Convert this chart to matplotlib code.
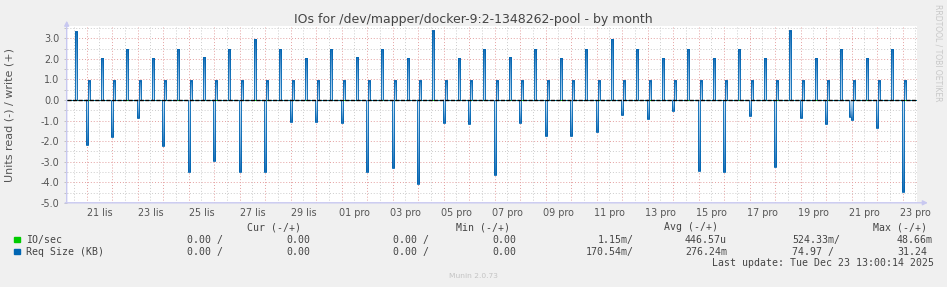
import numpy as np
import matplotlib
matplotlib.use("Agg")
import matplotlib.pyplot as plt
from matplotlib.colors import LinearSegmentedColormap
from matplotlib.patches import Rectangle

# time axis in days, 0 = 21 Nov 00:00; data are 2-hour RRD bins starting at odd hours
# read (drawn negative), bin 23:00-01:00 around each midnight, days 0..32
read_kb = [2.19, 1.78, 0.89, 2.22, 3.49, 2.97, 3.49, 3.49, 1.09, 1.05,
           1.10, 3.49, 3.29, 4.10, 1.14, 1.15, 3.63, 1.10, 1.74, 1.74, 1.54, 0.73,
           0.94, 0.54, 3.44, 3.49, 0.76, 3.24, 0.89, 1.15, 0.97, 1.35, 4.46]
# extra read bin 21:00-23:00 (only visible once)
read_kb_early = [0, 0, 0, 0, 0, 0, 0, 0, 0, 0,
                 0, 0, 0, 0, 0, 0, 0, 0, 0, 0, 0, 0,
                 0, 0, 0, 0, 0, 0, 0, 0, 0.81, 0, 0]
# write, bin 01:00-03:00, days 0..32
write_night_kb = [0.93, 0.93, 0.93, 0.93, 0.93, 0.93, 0.93, 0.93, 0.93, 0.93,
                  0.93, 0.93, 0.93, 0.93, 0.93, 0.93, 0.93, 0.93, 0.93, 0.93, 0.93, 0.93,
                  0.93, 0.93, 0.93, 0.93, 0.93, 0.93, 0.93, 0.93, 0.93, 0.93, 0.93]
# write, bin 13:00-15:00, days -1..31
write_day_kb = [3.31, 2.03, 2.47, 2.03, 2.47, 2.08, 2.47, 2.95, 2.47, 2.03,
                2.47, 2.08, 2.47, 2.03, 3.36, 2.03, 2.47, 2.08, 2.47, 2.03, 2.47, 2.95,
                2.47, 2.03, 2.47, 2.03, 2.47, 2.03, 3.36, 2.03, 2.47, 2.03, 2.47]
# IO/sec read, same bins as read_kb
io_read = [0, 0, 0, 0, 0, 0, 0, 0, 0, 0,
           0, 0, 0, 0, 0.05, 0.05, 0, 0, 0, 0, 0, 0,
           0, 0, 0, 0, 0.05, 0, 0.05, 0.04, 0.05, 0, 0]

day_labels = ["21 lis", "23 lis", "25 lis", "27 lis", "29 lis", "01 pro", "03 pro",
              "05 pro", "07 pro", "09 pro", "11 pro", "13 pro", "15 pro", "17 pro",
              "19 pro", "21 pro", "23 pro"]
label_days = list(range(0, 33, 2))

legend_names = ["IO/sec", "Req Size (KB)"]
legend_colors = ["#00cc00", "#0066b3"]
cur_vals = [["0.00 /", "0.00"], ["0.00 /", "0.00"]]
min_vals = [["0.00 /", "0.00"], ["0.00 /", "0.00"]]
avg_vals = [["1.15m/", "446.57u"], ["170.54m/", "276.24m"]]
max_vals = [["524.33m/", "48.66m"], ["74.97 /", "31.24"]]

W, H = 947, 287
BLUE = "#0066b3"


def px(x, y):
    return x / W, 1 - y / H


# bins
start0 = -1 + 5 / 24
nbins = 400
edges = start0 + np.arange(nbins + 1) / 12


def idx(t):
    return int(round((t - start0) * 12))


req = np.zeros(nbins)
io = np.zeros(nbins)
for d in range(33):
    req[idx(d - 1 / 24)] -= read_kb[d]
    req[idx(d - 3 / 24)] -= read_kb_early[d]
    req[idx(d + 1 / 24)] += write_night_kb[d]
    req[idx(d - 1 + 13 / 24)] += write_day_kb[d]
    io[idx(d - 1 / 24)] -= io_read[d]

fig = plt.figure(figsize=(W / 100, H / 100), dpi=100, facecolor="#f0f0f0")
ax = fig.add_axes([66.7 / W, 1 - 202.8 / H, (917 - 66.7) / W, 176.9 / H])
ax.set_facecolor("white")

# grid
for d in range(-1, 34):
    ax.axvline(d, color="#e4a0a0", lw=0.7, ls=(0, (1, 2)), zorder=1)
    ax.axvline(d + 0.5, color="#cccccc", lw=0.7, ls=(0, (1, 2)), zorder=1)
for v in np.arange(-5, 4, 1.0):
    ax.axhline(v, color="#e4a0a0", lw=0.7, ls=(0, (1, 2)), zorder=1)
    ax.axhline(v + 0.5, color="#cccccc", lw=0.7, ls=(0, (1, 2)), zorder=1)

# series
ax.stairs(io, edges, color="#00cc00", lw=0.7, baseline=None, zorder=2)
cmap = LinearSegmentedColormap.from_list("munin", ["#cfe3f3", "#7fb2dd", "#1a6db4"])
grad = np.linspace(0, 1, 64).reshape(-1, 1)
for k in np.nonzero(req)[0]:
    ax.imshow(grad, extent=[edges[k], edges[k + 1], 0, req[k]], cmap=cmap,
              aspect="auto", origin="lower", interpolation="bilinear", zorder=3)
ax.stairs(req, edges, color=BLUE, lw=0.6, baseline=None, zorder=4)
ax.axhline(0, color="black", lw=1.0, ls=(0, (3, 1)), zorder=5)

ax.set_xlim(-0.784, 32.56)
ax.set_ylim(-5, 3.6)

for s in ax.spines.values():
    s.set_visible(False)

ax.set_xticks([d + 0.5 for d in label_days])
ax.set_xticklabels(day_labels)
ax.tick_params(axis="x", length=0, pad=3.6, labelsize=6.9, labelcolor="#555555")
ax.set_yticks(np.arange(-5, 4, 1.0))
ax.set_yticklabels([f"{v:.1f}" for v in np.arange(-5, 4, 1.0)])
ax.set_yticks(np.arange(-4.5, 3.6, 1.0), minor=True)
ax.tick_params(axis="y", which="both", length=2, color="#bbbbbb", width=0.6,
               pad=3.2, labelsize=6.9, labelcolor="#555555")

# axis arrows
ax.annotate("", xy=(0, 1.045), xytext=(0, -0.01), xycoords="axes fraction",
            arrowprops=dict(arrowstyle="-|>", color="#c8c8f0", lw=1, mutation_scale=7))
ax.annotate("", xy=(1.016, 0), xytext=(-0.005, 0), xycoords="axes fraction",
            arrowprops=dict(arrowstyle="-|>", color="#c8c8f0", lw=1, mutation_scale=7))

# texts
fig.text(*px(473.5, 19.3), "IOs for /dev/mapper/docker-9:2-1348262-pool - by month",
         ha="center", va="center", fontsize=9, color="#444444")
fig.text(*px(10, 115), "Units read (-) / write (+)", rotation=90,
         ha="center", va="center", fontsize=8, color="#555555")
fig.text(*px(937.5, 53), "RRDTOOL / TOBI OETIKER", rotation=270,
         ha="center", va="center", fontsize=5.5, color="#c8c8c8")

mono = dict(family="DejaVu Sans Mono", fontsize=7.1, color="#444444",
            va="center", ha="left")
for x, s in [(247, "Cur (-/+)"), (456, "Min (-/+)"), (664.3, "Avg (-/+)"),
             (872.7, "Max (-/+)")]:
    fig.text(*px(x, 227.3), s, **mono)

rows_y = [240, 251.7]
for i in range(2):
    y = rows_y[i]
    fig.patches.append(Rectangle(px(14, y + 2.4), 6 / W, 5 / H,
                                 transform=fig.transFigure,
                                 color=legend_colors[i]))
    fig.text(*px(26, y), legend_names[i], **mono)
    fig.text(*px(187.3, y), cur_vals[i][0], **mono)
    fig.text(*px(286, y), cur_vals[i][1], **mono)
    fig.text(*px(393.3, y), min_vals[i][0], **mono)
    fig.text(*px(492.3, y), min_vals[i][1], **mono)
    fig.text(*px(633.3 - 5.96 * len(avg_vals[i][0]), y), avg_vals[i][0], **mono)
    fig.text(*px(685, y), avg_vals[i][1], **mono)
    fig.text(*px(792.3, y), max_vals[i][0], **mono)
    fig.text(*px(897, y), max_vals[i][1], **mono)

fig.text(*px(711.7, 263.3), "Last update: Tue Dec 23 13:00:14 2025", **mono)
fig.text(*px(473, 276), "Munin 2.0.73", ha="center", va="center",
         fontsize=5.4, color="#c4c4c4")

fig.savefig("out.png", dpi=100, facecolor=fig.get_facecolor())
